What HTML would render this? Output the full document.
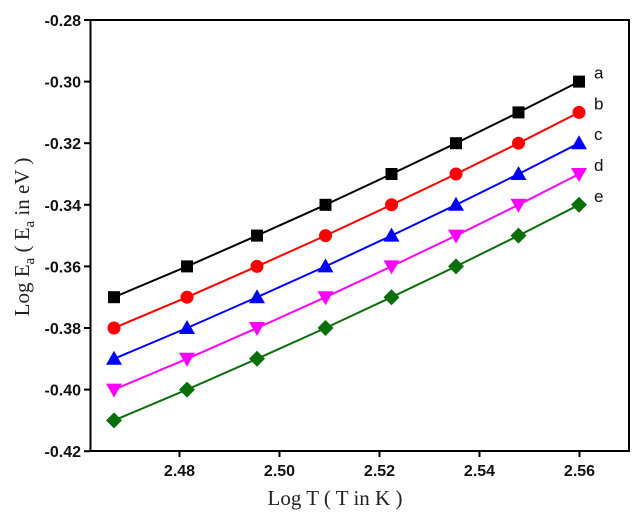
<!DOCTYPE html>
<html><head><meta charset="utf-8"><style>
body{margin:0;background:#fff}
svg{display:block}
.tk{font:bold 16px "Liberation Sans",Arial,sans-serif;fill:#111}
.ttl{font:21px "Liberation Serif",serif;fill:#222}
</style></head><body>
<svg id="chart" width="639" height="523" xmlns="http://www.w3.org/2000/svg">
<rect x="90.5" y="20" width="538.5" height="431" fill="none" stroke="#000" stroke-width="2"/>
<g id="axes"></g>
<g id="series"></g>
<text class="ttl" x="335" y="505" text-anchor="middle">Log T ( T in K )</text>
<text class="ttl" transform="translate(29,237) rotate(-90)" text-anchor="middle">Log E<tspan dy="5" font-size="15">a</tspan><tspan dy="-5"> ( E</tspan><tspan dy="5" font-size="15">a</tspan><tspan dy="-5"> in eV )</tspan></text>
</svg>
<script>
const xVals=[2.4669,2.4815,2.4955,2.5092,2.5224,2.5353,2.5478,2.5599];
const seriesA=[-0.37,-0.36,-0.35,-0.34,-0.33,-0.32,-0.31,-0.30];
const seriesB=[-0.38,-0.37,-0.36,-0.35,-0.34,-0.33,-0.32,-0.31];
const seriesC=[-0.39,-0.38,-0.37,-0.36,-0.35,-0.34,-0.33,-0.32];
const seriesD=[-0.40,-0.39,-0.38,-0.37,-0.36,-0.35,-0.34,-0.33];
const seriesE=[-0.41,-0.40,-0.39,-0.38,-0.37,-0.36,-0.35,-0.34];
const seriesNames=['a','b','c','d','e'];
const xTicks=[2.48,2.50,2.52,2.54,2.56];
const yTicks=[-0.28,-0.30,-0.32,-0.34,-0.36,-0.38,-0.40,-0.42];

const NS='http://www.w3.org/2000/svg';
const X=v=>179.5+(v-2.48)*5000;
const Y=v=>20+(-0.28-v)*3080;
function mk(t,a,p){const e=document.createElementNS(NS,t);for(const k in a)e.setAttribute(k,a[k]);p.appendChild(e);return e;}
const ax=document.getElementById('axes');
xTicks.forEach(t=>{
  const l=mk('line',{x1:X(t),x2:X(t),y1:451,y2:457,stroke:'#000','stroke-width':2},ax);
  
  
  const tx=mk('text',{x:X(t),y:476,'text-anchor':'middle',class:'tk'},ax);
  tx.textContent=t.toFixed(2);
  
  
});
yTicks.forEach(t=>{
  const l=mk('line',{x1:84,x2:90,y1:Y(t),y2:Y(t),stroke:'#000','stroke-width':2},ax);
  
  
  const tx=mk('text',{x:81,y:Y(t)+6,'text-anchor':'end',class:'tk'},ax);
  tx.textContent=t.toFixed(2);
  
  
});
const sg=document.getElementById('series');
const all=[seriesA,seriesB,seriesC,seriesD,seriesE];
const colors=['#000','#f00','#00f','#f0f','#0a6e0a'];
const shapes=['sq','ci','tu','td','di'];
all.forEach((s,i)=>{
  const g=mk('g',{},sg);
  
  
  const pts=s.map((v,j)=>X(xVals[j])+','+Y(v)).join(' ');
  const pl=mk('polyline',{points:pts,fill:'none',stroke:colors[i],'stroke-width':2},g);
  
  
  s.forEach((v,j)=>{
    const x=X(xVals[j]),y=Y(v),c=colors[i];let m;
    if(shapes[i]=='sq')m=mk('rect',{x:x-6,y:y-6,width:12,height:12,fill:c},g);
    else if(shapes[i]=='ci')m=mk('circle',{cx:x,cy:y,r:6.5,fill:c},g);
    else if(shapes[i]=='tu')m=mk('polygon',{points:`${x},${y-8} ${x-8},${y+6} ${x+8},${y+6}`,fill:c},g);
    else if(shapes[i]=='td')m=mk('polygon',{points:`${x},${y+8} ${x-8},${y-6} ${x+8},${y-6}`,fill:c},g);
    else m=mk('polygon',{points:`${x},${y-8} ${x+8},${y} ${x},${y+8} ${x-8},${y}`,fill:c},g);
    
    
  });
  const lb=mk('text',{x:594,y:Y(s[s.length-1])-3,class:'tk'},g);
  lb.style.fontWeight='normal';lb.style.fontSize='17px';
  lb.textContent=seriesNames[i];
  
  
});
</script>
</body></html>
